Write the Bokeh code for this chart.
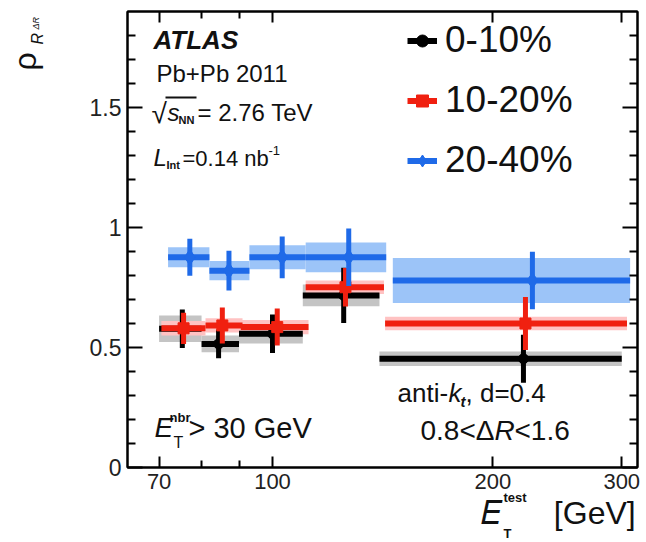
import numpy as np
from bokeh.plotting import figure
from bokeh.models import (ColumnDataSource, FixedTicker, LinearAxis, LogAxis, Label,
                          Legend, LegendItem, CustomJSTickFormatter, BoxAnnotation, Range1d)
from bokeh.embed import file_html
from bokeh.resources import INLINE

# ---------------- data ----------------
centrality = ["0-10%", "10-20%", "20-40%"]

black_lo = [70, 80, 90, 110, 140]
black_hi = [80, 90, 110, 140, 300]
black_x = [75.3, 84.4, 100.0, 125.1, 220.2]
black_y = [0.578, 0.515, 0.557, 0.717, 0.453]
black_stat = [0.08, 0.06, 0.08, 0.115, 0.10]
black_sys = [0.055, 0.035, 0.04, 0.045, 0.03]

red_lo = [70.5, 81, 90.5, 111, 142.5]
red_hi = [81, 91, 112, 142, 305]
red_x = [75.6, 85.4, 101.5, 125.8, 221.6]
red_y = [0.580, 0.592, 0.585, 0.751, 0.600]
red_stat = [0.065, 0.075, 0.077, 0.08, 0.11]
red_sys = [0.03, 0.03, 0.03, 0.028, 0.028]

blue_lo = [72, 82, 93, 111, 146]
blue_hi = [82, 93, 111, 143, 308]
blue_x = [77.1, 87.2, 103.1, 127.1, 226.5]
blue_y = [0.876, 0.820, 0.876, 0.876, 0.779]
blue_stat = [0.077, 0.083, 0.087, 0.12, 0.12]
blue_sys = [0.042, 0.04, 0.05, 0.062, 0.094]

x_ticks = [70, 100, 200, 300]
x_minor_ticks = [80, 90]
y_ticks = [0, 0.5, 1, 1.5]
y_tick_labels = ["0", "0.5", "1", "1.5"]
y_minor_ticks = [0.1, 0.2, 0.3, 0.4, 0.6, 0.7, 0.8, 0.9, 1.1, 1.2, 1.3, 1.4, 1.6, 1.7, 1.8]

# ---------------- geometry ----------------
W, H = 646, 542
FL, FR, FT, FB = 127, 637, 11, 467
XMIN = 10 ** (2 - (272 - FL) / 732)
XMAX = 10 ** (2 + (FR - 272) / 732)
YMIN, YMAX = 0.0, 1.9
FONT = "Liberation Sans"


def dx(px):
    lo, hi = np.log10(XMIN), np.log10(XMAX)
    return 10 ** (lo + (px - FL) / (FR - FL) * (hi - lo))


def dy(py):
    return YMIN + (FB - py) / (FB - FT) * (YMAX - YMIN)


p = figure(width=W, height=H, x_axis_type="log",
           x_range=Range1d(XMIN, XMAX), y_range=Range1d(YMIN, YMAX),
           output_backend="svg", toolbar_location=None,
           min_border_left=FL, min_border_right=W - FR,
           min_border_top=FT, min_border_bottom=H - FB)
p.grid.visible = False
p.outline_line_color = "black"
p.outline_line_width = 2
p.background_fill_color = "white"
p.border_fill_color = "white"

xt = FixedTicker(ticks=x_ticks, minor_ticks=x_minor_ticks)
yt = FixedTicker(ticks=y_ticks, minor_ticks=y_minor_ticks)

for ax in p.xaxis:
    ax.ticker = xt
    ax.formatter = CustomJSTickFormatter(code="return tick.toFixed(0)")
    ax.major_label_text_font = FONT
    ax.major_label_text_font_size = "22px"
    ax.major_label_text_color = "#222222"
    ax.major_label_standoff = 6
    ax.major_tick_in, ax.major_tick_out = 11, 0
    ax.minor_tick_in, ax.minor_tick_out = 7, 0
    ax.axis_line_width = 2
    ax.major_tick_line_width = 2
    ax.minor_tick_line_width = 2

for ax in p.yaxis:
    ax.ticker = yt
    ax.major_label_overrides = {t: l for t, l in zip(y_ticks, y_tick_labels)}
    ax.major_label_text_font = FONT
    ax.major_label_text_font_size = "23px"
    ax.major_label_text_color = "#222222"
    ax.major_label_standoff = 6
    ax.major_tick_in, ax.major_tick_out = 15, 0
    ax.minor_tick_in, ax.minor_tick_out = 8, 0
    ax.axis_line_width = 2
    ax.major_tick_line_width = 2
    ax.minor_tick_line_width = 2

empty = CustomJSTickFormatter(code="return ''")
top = LogAxis(ticker=xt, formatter=empty, major_label_text_font_size="0px",
              major_label_standoff=0, major_tick_in=11, major_tick_out=0,
              minor_tick_in=7, minor_tick_out=0, axis_line_width=2,
              major_tick_line_width=2, minor_tick_line_width=2)
right = LinearAxis(ticker=yt, formatter=empty, major_label_text_font_size="0px",
                   major_label_standoff=0, major_tick_in=15, major_tick_out=0,
                   minor_tick_in=8, minor_tick_out=0, axis_line_width=2,
                   major_tick_line_width=2, minor_tick_line_width=2)
p.add_layout(top, "above")
p.add_layout(right, "right")

series = [
    (black_lo, black_hi, black_x, black_y, black_stat, black_sys, "#000000", "#c4c4c4", "circle", 10),
    (red_lo, red_hi, red_x, red_y, red_stat, red_sys, "#f02010", "#ffc2c2", "square", 11),
    (blue_lo, blue_hi, blue_x, blue_y, blue_stat, blue_sys, "#1f6ae8", "#9cc4f8", "diamond", 16),
]

sources = []
for lo, hi, x, y, st, sy, col, band, mk, sz in series:
    y = np.array(y); st = np.array(st); sy = np.array(sy)
    src = ColumnDataSource(dict(lo=lo, hi=hi, x=x, y=y,
                                ylo=y - st, yhi=y + st,
                                blo=y - sy, bhi=y + sy))
    sources.append(src)

# systematic bands first
for src, s in zip(sources, series):
    p.quad(left="lo", right="hi", bottom="blo", top="bhi", source=src,
           fill_color=s[7], line_color=None)

seg_rs, mk_rs = [], []
for src, s in zip(sources, series):
    col = s[6]
    r1 = p.segment(x0="lo", y0="y", x1="hi", y1="y", source=src, line_color=col, line_width=6)
    p.segment(x0="x", y0="ylo", x1="x", y1="yhi", source=src, line_color=col, line_width=5)
    r2 = p.scatter(x="x", y="y", source=src, marker=s[8], size=s[9], fill_color=col, line_color=col)
    seg_rs.append(r1)
    mk_rs.append(r2)

legend = Legend(items=[LegendItem(label=centrality[i], renderers=[seg_rs[i], mk_rs[i]]) for i in range(3)],
                location=(280, 286), orientation="vertical",
                glyph_width=30, glyph_height=41, label_height=41,
                label_standoff=8, spacing=18, padding=0, margin=0,
                border_line_color=None, background_fill_alpha=0,
                label_text_font=FONT, label_text_font_size="37px",
                label_text_color="#111111")
p.add_layout(legend)


def lab(text, px, py, size, style="normal", angle=0.0, color="#111111", place=None,
        lh=1.2, adj=None):
    # rendered alphabetic baseline sits a little low: compensate
    s = (2 + 0.28 * size) if adj is None else adj
    if angle:
        px = px - s
    else:
        py = py - s
    l = Label(x=dx(px), y=dy(py), text=text, text_font=FONT,
              text_font_size=f"{size}px", text_font_style=style,
              text_color=color, text_baseline="alphabetic",
              text_align="left", angle=angle, text_line_height=lh)
    if place is None:
        p.add_layout(l)
    else:
        p.add_layout(l, place)


# ATLAS block
lab("ATLAS", 153, 49, 26, "bold italic")
lab("Pb+Pb 2011", 156, 82, 24)
lab("\u221a", 151, 123, 28)
lab("s", 167, 121, 24, "italic")
lab("NN", 178, 125, 11, "bold")
lab("= 2.76 TeV", 197, 121, 24)
p.add_layout(BoxAnnotation(left=dx(165), right=dx(196), top=dy(104.5 - 8.5), bottom=dy(106.5 - 8.5),
                           fill_color="#111111", fill_alpha=1, line_color=None))
lab("L", 153, 166, 24, "italic")
lab("Int", 166, 170, 11, "bold")
lab("=0.14 nb", 182, 166, 22)
lab("-1", 268, 156, 13)

# cut labels
lab("anti-", 397, 402, 26)
lab("k", 448, 402, 26, "italic")
lab("t", 460, 407, 15, "bold italic")
lab(", d=0.4", 465, 402, 26)
lab("0.8<\u0394", 420, 440, 28)
lab("R", 494, 440, 28, "italic")
lab("<1.6", 514, 440, 28)

lab("E", 154, 437, 28, "italic")
lab("nbr", 169, 423, 13, "bold")
lab("T", 173, 448, 16)
lab("> 30 GeV", 188, 438, 29)

# x axis title (outside the frame: placed in side panels so it is not clipped)
lab("\U0001D438\u00a0\u00a0\u00a0\u00a0\u00a0\u00a0[GeV]", 480, 520, 32, place="below", adj=8)
lab("test\nT", 503, 515, 13, "bold", place="left", lh=2.45, adj=0)

# y axis title (rotated)
lab("\u03c1", 35, 70, 32, "normal", angle=np.pi / 2, place="left")
lab("R", 43, 44, 16, "italic", angle=np.pi / 2, place="left")
lab("\u0394R", 40, 29, 9, "italic", angle=np.pi / 2, place="left")

open("out.html", "w").write(file_html(p, INLINE))
